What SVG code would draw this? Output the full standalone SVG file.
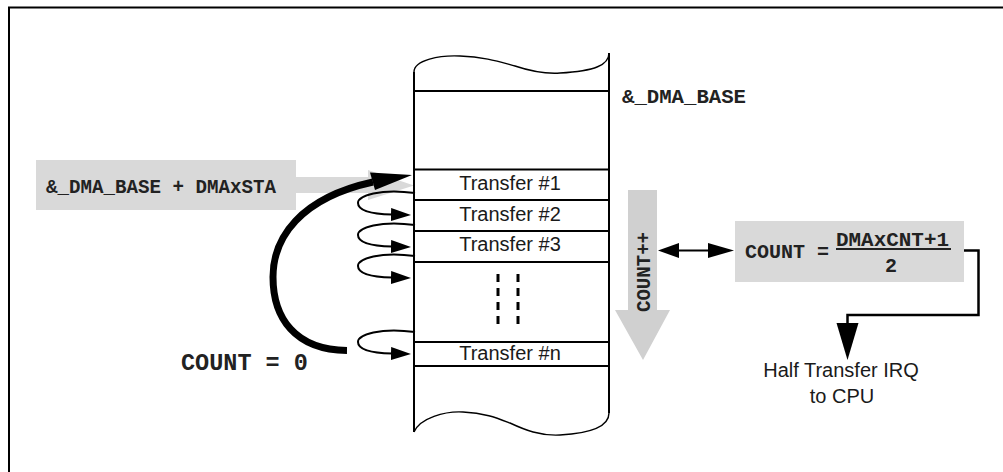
<svg xmlns="http://www.w3.org/2000/svg" width="1003" height="472" viewBox="0 0 1003 472">
<style>
.ln{stroke:#000;stroke-width:2;fill:none}
.wave{stroke:#000;stroke-width:1.4;fill:none}
.sans{font-family:"Liberation Sans",Arial,sans-serif;font-size:20px;fill:#1a1a1a}
.mono{font-family:"Liberation Mono","Courier New",monospace;font-weight:bold;fill:#222}
.gray{fill:#d9d9d9}
.loop{stroke:#000;stroke-width:2;fill:none;marker-end:url(#ah)}
</style>
<defs>
<marker id="ah" markerUnits="userSpaceOnUse" markerWidth="22" markerHeight="14" refX="1" refY="6.5" orient="auto" viewBox="0 0 22 14">
<path d="M0,0 L20,6.5 L0,13 z" fill="#000"/>
</marker>
</defs>
<rect x="9" y="7.5" width="1010" height="480" fill="#fff" stroke="#000" stroke-width="2"/>

<g id="label-sta">
<rect class="gray" x="36" y="160" width="260" height="50"/>
<polygon class="gray" points="295,177 368,177 368,170 414,185.5 368,200 368,193 295,193"/>
<text class="mono" x="46" y="193" font-size="19.5" textLength="230" lengthAdjust="spacingAndGlyphs">&amp;_DMA_BASE + DMAxSTA</text>
</g>

<g id="memory">
<path class="ln" d="M414,72 V432 M609,53 V413"/>
<path class="wave" d="M414,72 C414,60 440,55 460,56 C485,57 500,62 515,66 C530,71 545,74 560,73 C595,71 609,65 609,53"/>
<path class="wave" d="M414,432 C420,418 445,411 463,412 C485,413 497,418 510,423 C525,430 540,436 560,435 C595,433 609,425 609,413"/>
<path class="ln" d="M414,91 H609 M414,169.5 H609 M414,200 H609 M414,231 H609 M414,262 H609 M414,342 H609 M414,366 H609"/>
<text class="sans" x="510" y="190" text-anchor="middle">Transfer #1</text>
<text class="sans" x="510" y="221" text-anchor="middle">Transfer #2</text>
<text class="sans" x="510" y="251" text-anchor="middle">Transfer #3</text>
<text class="sans" x="510" y="360" text-anchor="middle">Transfer #n</text>
<path d="M498,274 V330 M518,274 V330" stroke="#000" stroke-width="3" stroke-dasharray="8 6"/>
</g>

<g id="label-base">
<text class="mono" x="622" y="103" font-size="20" textLength="124" lengthAdjust="spacingAndGlyphs">&amp;_DMA_BASE</text>
</g>

<g id="label-count0">
<text class="mono" x="181" y="370" font-size="23.5" xml:space="preserve">COUNT = 0</text>
</g>

<g id="count-inc">
<polygon fill="#d0d0d0" points="628,190 657,190 657,310 670,310 643,360 615,310 628,310"/>
<text class="mono" transform="rotate(-90 650 272)" x="650" y="272" font-size="21" text-anchor="middle" textLength="80" lengthAdjust="spacingAndGlyphs">COUNT++</text>
</g>

<g id="count-formula">
<rect class="gray" x="735" y="221" width="229" height="61"/>
<text class="mono" x="745" y="258" font-size="20">COUNT =</text>
<text class="mono" x="892.5" y="245.5" font-size="20" text-anchor="middle" textLength="113" lengthAdjust="spacingAndGlyphs">DMAxCNT+1</text>
<line x1="836" y1="249" x2="951" y2="249" stroke="#222" stroke-width="2"/>
<text class="mono" x="891" y="271.5" font-size="20" text-anchor="middle">2</text>
</g>

<g id="irq">
<text class="sans" x="841" y="377" text-anchor="middle">Half Transfer IRQ</text>
<text class="sans" x="842" y="403" text-anchor="middle">to CPU</text>
</g>

<g id="connectors">
<path d="M347,350.5 C295,350 273,318 273,277 C273,238 300,198 373,182" stroke="#000" stroke-width="7" fill="none"/>
<polygon points="412,175 370,172.5 375,190" fill="#000"/>
<path class="loop" d="M415,193 C380,188 358,196 358,203 C358,210 370,214 392,214.5"/>
<path class="loop" d="M415,225 C380,220 358,228 358,235 C358,242 370,246 392,246.5"/>
<path class="loop" d="M415,256 C380,251 358,259 358,266 C358,273 370,277 392,277.5"/>
<path class="loop" d="M415,332 C380,327 358,335 358,342 C358,349 370,353 392,353.5"/>
<line x1="675" y1="250.5" x2="712" y2="250.5" stroke="#000" stroke-width="2"/>
<polygon points="658,250.5 679,243 679,258" fill="#000"/>
<polygon points="734,250.5 708,243 708,258" fill="#000"/>
<path d="M964,250.5 H978.5 V315 H847.5 V326" stroke="#000" stroke-width="2.5" fill="none"/>
<polygon points="836.5,323 858.5,323 847.5,360" fill="#000"/>
</g>
</svg>
